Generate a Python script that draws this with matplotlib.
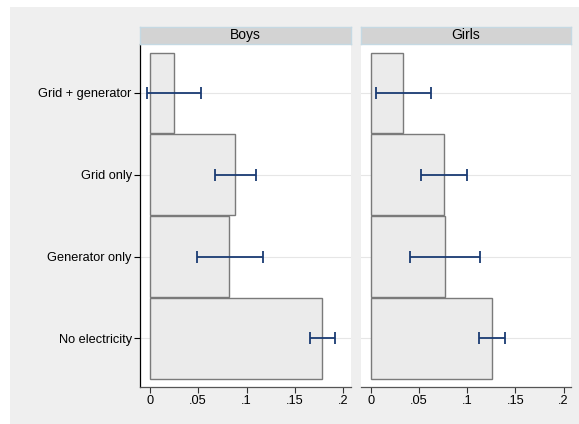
import matplotlib
matplotlib.use("Agg")
import matplotlib.pyplot as plt
from matplotlib.patches import Rectangle

plt.rcParams['font.family'] = ['Liberation Sans', 'DejaVu Sans']

categories = ["No electricity", "Generator only", "Grid only", "Grid + generator"]
panels = ["Boys", "Girls"]
boys_mean = [0.178, 0.082, 0.0876, 0.0245]
boys_lo = [0.1655, 0.0483, 0.0669, -0.0028]
boys_hi = [0.1914, 0.1176, 0.1097, 0.0524]
girls_mean = [0.1253, 0.0764, 0.0755, 0.0332]
girls_lo = [0.1121, 0.0405, 0.0522, 0.0052]
girls_hi = [0.1387, 0.1131, 0.0993, 0.0626]
xticks = [0, 0.05, 0.1, 0.15, 0.2]
xticklabels = ["0", ".05", ".1", ".15", ".2"]

W, H = 579, 424
fig = plt.figure(figsize=(W / 100, H / 100), dpi=100)
fig.patch.set_facecolor("white")
fig.patches.append(Rectangle((10 / W, 0), 1 - 10 / W, 1 - 7 / H, transform=fig.transFigure,
                             facecolor="#efefef", edgecolor="none", zorder=-10))

data = {"Boys": (boys_mean, boys_lo, boys_hi), "Girls": (girls_mean, girls_lo, girls_hi)}
lefts = {"Boys": 140, "Girls": 361}
rights = {"Boys": 350.5, "Girls": 571}
top_px, bot_px, head_top = 44.3, 386.5, 26.5
ypos = list(range(len(categories)))
navy = "#1a3b73"
fs = 9.2

for name in panels:
    l, r = lefts[name], rights[name]
    ax = fig.add_axes([l / W, (H - bot_px) / H, (r - l) / W, (bot_px - top_px) / H])
    ax.set_facecolor("white")
    m, lo, hi = data[name]
    for y in ypos:
        ax.axhline(y, color="#e6e6e6", lw=0.8, zorder=0)
    ax.barh(ypos, m, height=0.985, color="#ebebeb", edgecolor="#7a7a7a", lw=1.0, zorder=2)
    ax.hlines(ypos, lo, hi, color=navy, lw=1.3, zorder=3)
    ax.plot(lo, ypos, linestyle="none", marker="|", markersize=8, mew=1.3, color=navy, zorder=3)
    ax.plot(hi, ypos, linestyle="none", marker="|", markersize=8, mew=1.3, color=navy, zorder=3)
    ax.set_xlim(-0.0103, 0.2077)
    ax.set_ylim(-0.589, 3.594)
    ax.set_xticks(xticks)
    ax.set_xticklabels(xticklabels, fontsize=fs)
    ax.tick_params(axis="x", length=4, width=0.8, color="#333333", pad=2)
    for s in ["top", "right"]:
        ax.spines[s].set_visible(False)
    ax.spines["bottom"].set_color("#555555")
    ax.spines["bottom"].set_linewidth(0.9)
    if name == "Boys":
        ax.set_yticks(ypos)
        ax.set_yticklabels(categories, fontsize=fs)
        ax.tick_params(axis="y", length=4, width=0.8, pad=2)
        ax.spines["left"].set_color("black")
        ax.spines["left"].set_linewidth(0.9)
    else:
        ax.set_yticks([])
        ax.spines["left"].set_visible(False)
    # header strip
    hx = fig.add_axes([l / W, (H - top_px) / H, (r - l) / W, (top_px - head_top) / H])
    hx.set_facecolor("#d3d3d3")
    hx.set_xticks([]); hx.set_yticks([])
    for s in hx.spines.values():
        s.set_color("#c5d9e3")
        s.set_linewidth(1.0)
    hx.text(0.5, 0.5, name, ha="center", va="center", fontsize=10, transform=hx.transAxes)

fig.savefig("out.png", dpi=100, facecolor=fig.get_facecolor())
